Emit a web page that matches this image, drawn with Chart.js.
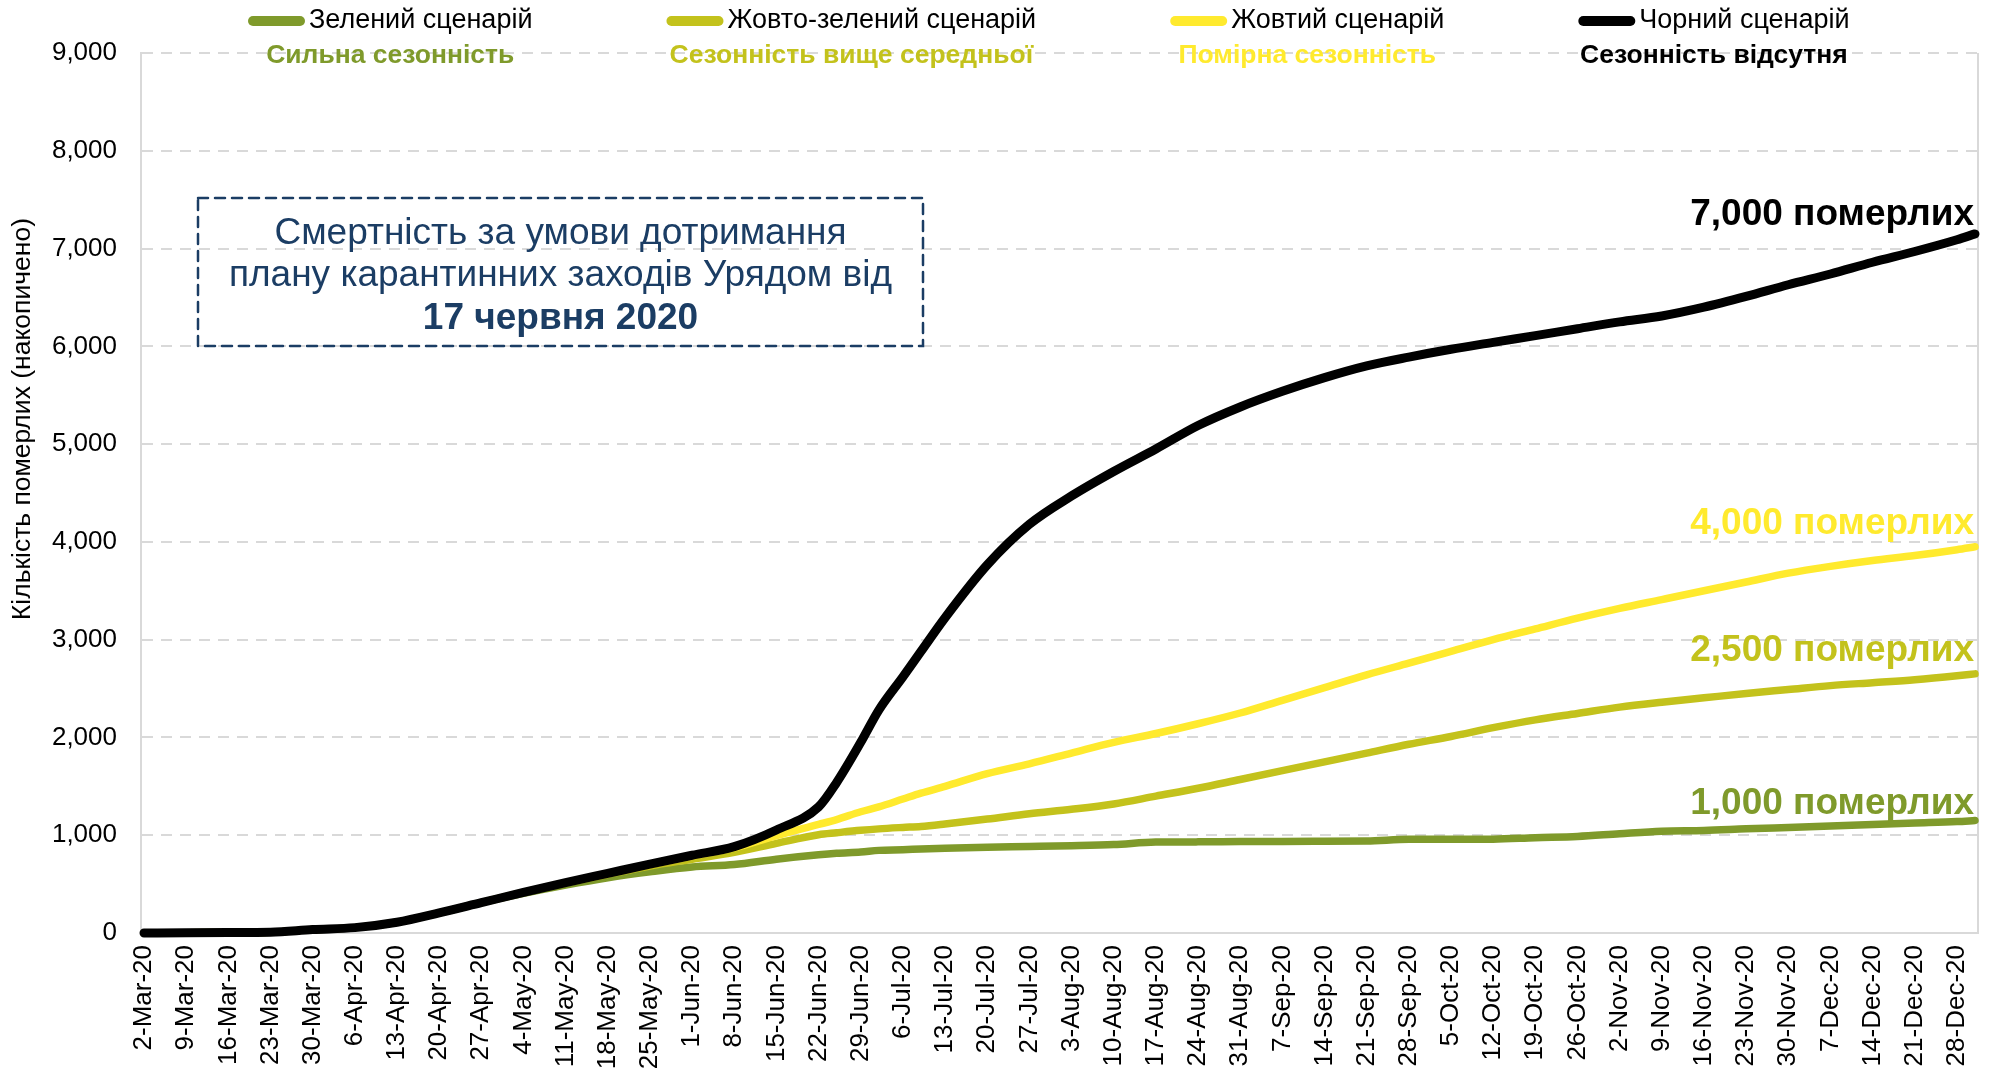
<!doctype html>
<html>
<head>
	<meta charset="utf-8">
	<title>Смертність за сценаріями</title>
	<script src="https://cdn.jsdelivr.net/npm/chart.js@4.4.0/dist/chart.umd.min.js"></script>
	<style>
		body { margin: 0; background: #fff; }
		#canvas-holder { width: 1993px; height: 1073px; }
	</style>
</head>

<body>
	<div id="canvas-holder">
		<canvas id="chart-area" width="1993" height="1073"></canvas>
	</div>
	<script>
		// weekly tick labels (one per 7 days starting 2-Mar-20)
		var weekLabels = [
			'2-Mar-20', '9-Mar-20', '16-Mar-20', '23-Mar-20', '30-Mar-20',
			'6-Apr-20', '13-Apr-20', '20-Apr-20', '27-Apr-20',
			'4-May-20', '11-May-20', '18-May-20', '25-May-20',
			'1-Jun-20', '8-Jun-20', '15-Jun-20', '22-Jun-20', '29-Jun-20',
			'6-Jul-20', '13-Jul-20', '20-Jul-20', '27-Jul-20',
			'3-Aug-20', '10-Aug-20', '17-Aug-20', '24-Aug-20', '31-Aug-20',
			'7-Sep-20', '14-Sep-20', '21-Sep-20', '28-Sep-20',
			'5-Oct-20', '12-Oct-20', '19-Oct-20', '26-Oct-20',
			'2-Nov-20', '9-Nov-20', '16-Nov-20', '23-Nov-20', '30-Nov-20',
			'7-Dec-20', '14-Dec-20', '21-Dec-20', '28-Dec-20'
		];

		// day number since 2-Mar-20 for every value below (last one = 31-Dec-20)
		var sampleDays = [0, 7, 14, 21, 28, 35, 42, 49, 56, 63, 70, 77, 84, 91, 98, 105, 112,
			115, 119, 122, 126, 129, 133, 140, 147, 154, 161, 168, 175, 182, 189, 196, 203, 210,
			217, 224, 231, 238, 245, 252, 259, 266, 273, 280, 287, 294, 301, 304];

		var greenValues = [0, 3, 5, 8, 35, 55, 110, 205, 310, 405, 490, 565, 625, 675, 700, 755, 800,
			815, 828, 845, 852, 860, 868, 878, 885, 893, 905, 930, 932, 935, 937, 938, 940, 958,
			958, 960, 975, 987, 1015, 1040, 1048, 1065, 1080, 1095, 1110, 1125, 1140, 1150];

		var yellowGreenValues = [0, 3, 5, 8, 35, 55, 110, 205, 310, 415, 510, 600, 685, 755, 825, 917, 1005,
			1025, 1050, 1065, 1080, 1090, 1115, 1165, 1220, 1265, 1320, 1400, 1480, 1570, 1660, 1750, 1840, 1930,
			2010, 2100, 2180, 2245, 2310, 2360, 2405, 2450, 2490, 2530, 2560, 2590, 2630, 2650];

		var yellowValues = [0, 3, 5, 8, 35, 55, 110, 205, 310, 415, 515, 610, 700, 785, 870, 995, 1110,
			1160, 1240, 1290, 1370, 1430, 1500, 1630, 1730, 1840, 1950, 2040, 2140, 2250, 2380, 2510, 2640, 2760,
			2880, 3000, 3110, 3220, 3320, 3410, 3500, 3590, 3680, 3750, 3810, 3860, 3920, 3950];

		var blackValues = [0, 3, 5, 8, 35, 55, 110, 205, 310, 415, 515, 610, 705, 795, 883, 1053, 1290,
			1540, 1950, 2280, 2620, 2880, 3225, 3765, 4180, 4470, 4720, 4950, 5190, 5380, 5540, 5680, 5800, 5890,
			5970, 6040, 6110, 6180, 6250, 6310, 6400, 6510, 6630, 6740, 6860, 6970, 7090, 7150];

		var seriesNames = ['Зелений сценарій', 'Жовто-зелений сценарій', 'Жовтий сценарій', 'Чорний сценарій'];
		var seriesNotes = ['Сильна сезонність', 'Сезонність вище середньої', 'Помірна сезонність', 'Сезонність відсутня'];
		var endLabels = ['1,000 померлих', '2,500 померлих', '4,000 померлих', '7,000 померлих'];
		var boxLines = ['Смертність за умови дотримання', 'плану карантинних заходів Урядом від', '17 червня 2020'];
		var yTitle = 'Кількість померлих (накопичено)';

		var lineColors = ['#7f9a2b', '#c3c21c', '#ffea2e', '#000000'];
		var labelLift = [17, 23, 23, 19];
		var FONT = '"Liberation Sans", Arial, sans-serif';
		var NAVY = '#1b3d64';

		function points(values) {
			return sampleDays.map(function(d, i) {
				return { x: d, y: values[i] };
			});
		}

		var allValues = [greenValues, yellowGreenValues, yellowValues, blackValues];

		var datasets = allValues.map(function(values, i) {
			return {
				label: seriesNames[i],
				data: points(values),
				borderColor: lineColors[i],
				backgroundColor: lineColors[i],
				borderWidth: i === 3 ? 9 : 7.5,
				borderCapStyle: 'round',
				borderJoinStyle: 'round',
				pointRadius: 0,
				cubicInterpolationMode: 'monotone',
				clip: false,
				order: 4 - i
			};
		});

		var extras = {
			id: 'extras',
			beforeDatasetsDraw: function(chart) {
				var ctx = chart.ctx, a = chart.chartArea;
				ctx.save();
				ctx.strokeStyle = '#d9d9d9';
				ctx.lineWidth = 2;
				ctx.beginPath();
				ctx.moveTo(a.right, a.top);
				ctx.lineTo(a.right, a.bottom);
				ctx.stroke();
				ctx.restore();
			},
			afterDraw: function(chart) {
				var ctx = chart.ctx, a = chart.chartArea;
				ctx.save();
				ctx.textBaseline = 'middle';

				// legend with a note under every entry
				var x = 248;
				seriesNames.forEach(function(name, i) {
					ctx.font = '27px ' + FONT;
					var w = 61 + ctx.measureText(name).width;
					ctx.strokeStyle = lineColors[i];
					ctx.lineWidth = 10;
					ctx.lineCap = 'round';
					ctx.beginPath();
					ctx.moveTo(x + 5, 21);
					ctx.lineTo(x + 52, 21);
					ctx.stroke();
					ctx.fillStyle = '#000';
					ctx.textAlign = 'left';
					ctx.fillText(name, x + 61, 21);
					ctx.font = 'bold 26.5px ' + FONT;
					ctx.fillStyle = lineColors[i];
					ctx.textAlign = 'center';
					ctx.fillText(seriesNotes[i], x + w / 2, 56);
					x += w + 134;
				});

				// y axis title
				ctx.save();
				ctx.translate(23, a.top + a.height * 0.416);
				ctx.rotate(-Math.PI / 2);
				ctx.font = '26.5px ' + FONT;
				ctx.fillStyle = '#000';
				ctx.textAlign = 'center';
				ctx.fillText(yTitle, 0, 0);
				ctx.restore();

				// dashed note box
				var bx = a.left + 57, by = a.top + 145, bw = 725, bh = 148;
				ctx.save();
				ctx.strokeStyle = NAVY;
				ctx.lineWidth = 2.5;
				ctx.setLineDash([10, 7]);
				ctx.strokeRect(bx, by, bw, bh);
				ctx.restore();
				ctx.fillStyle = NAVY;
				ctx.textAlign = 'center';
				ctx.font = '37px ' + FONT;
				ctx.fillText(boxLines[0], bx + bw / 2, by + 36);
				ctx.fillText(boxLines[1], bx + bw / 2, by + 78);
				ctx.font = 'bold 37px ' + FONT;
				ctx.fillText(boxLines[2], bx + bw / 2, by + 121);

				// totals above the end of each line
				ctx.textAlign = 'right';
				ctx.font = 'bold 37px ' + FONT;
				chart.data.datasets.forEach(function(ds, i) {
					var meta = chart.getDatasetMeta(i);
					var last = meta.data[meta.data.length - 1];
					ctx.fillStyle = lineColors[i];
					ctx.fillText(endLabels[i], a.right - 4, last.y - labelLift[i]);
				});
				ctx.restore();
			}
		};

		var config = {
			type: 'line',
			data: { datasets: datasets },
			options: {
				responsive: false,
				maintainAspectRatio: false,
				animation: false,
				devicePixelRatio: 1,
				layout: { padding: { top: 53, right: 15, left: 0, bottom: 0 } },
				plugins: {
					legend: { display: false },
					tooltip: { enabled: false }
				},
				scales: {
					x: {
						type: 'linear',
						min: -0.5,
						max: 304.5,
						grid: { display: false, drawTicks: false },
						border: { display: true, color: '#d9d9d9', width: 2 },
						afterBuildTicks: function(scale) {
							scale.ticks = weekLabels.map(function(l, i) { return { value: i * 7 }; });
						},
						afterFit: function(scale) {
							scale.height = 140;
							scale.paddingLeft = 0;
							scale.paddingRight = 0;
						},
						ticks: {
							autoSkip: false,
							minRotation: 90,
							maxRotation: 90,
							padding: 12,
							color: '#000',
							font: { family: FONT, size: 26 },
							callback: function(value) { return weekLabels[Math.round(value / 7)]; }
						}
					},
					y: {
						min: 0,
						max: 9000,
						grid: { color: '#d9d9d9', lineWidth: 2, drawTicks: false },
						border: { display: true, color: '#d9d9d9', width: 2, dash: [11, 8] },
						afterFit: function(scale) { scale.width = 141; },
						ticks: {
							stepSize: 1000,
							padding: 24,
							color: '#000',
							font: { family: FONT, size: 26 },
							callback: function(value) { return value.toLocaleString('en-US'); }
						}
					}
				}
			},
			plugins: [extras]
		};

		window.onload = function() {
			var ctx = document.getElementById('chart-area').getContext('2d');
			window.myLine = new Chart(ctx, config);
		};
	</script>
</body>

</html>
